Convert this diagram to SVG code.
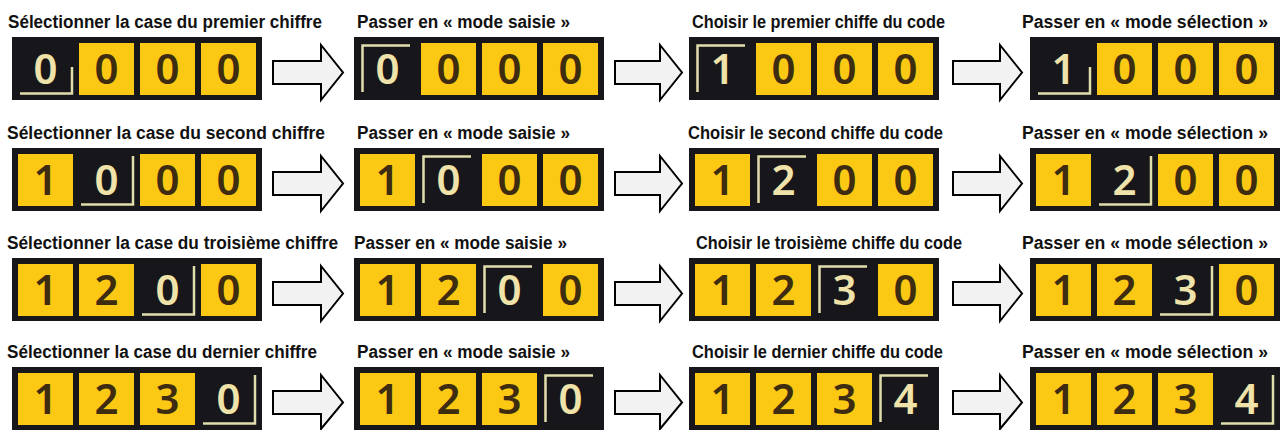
<svg xmlns="http://www.w3.org/2000/svg" width="1283" height="430" viewBox="0 0 1283 430">
<style>
.bg{fill:#ffffff}
.lbl{font-family:"Liberation Sans",Arial,sans-serif;font-weight:bold;font-size:18px;fill:#111111}
.pan{fill:#16161b}
.cell{fill:#fbc813}
.dg{font-family:"Noto Sans","DejaVu Sans",sans-serif;font-size:42px;font-weight:600;text-anchor:middle;fill:#3d2c10}
.ds{font-family:"Noto Sans","DejaVu Sans",sans-serif;font-size:42px;font-weight:600;text-anchor:middle;fill:#efe3aa}
.cur{fill:none;stroke:#e2deac;stroke-width:2.5}
.arr{fill:#f2f2f2;stroke:#000000;stroke-width:2;stroke-linejoin:miter}
</style>
<rect class="bg" x="0" y="0" width="1283" height="430"/>

<!-- Row 1 -->
<g id="r1c1">
<text class="lbl" x="8" y="28" textLength="314" lengthAdjust="spacingAndGlyphs">Sélectionner la case du premier chiffre</text>
<g transform="translate(12,37)">
<rect class="pan" width="250" height="63"/>
<rect class="cell" x="67" y="6" width="55" height="52"/><rect class="cell" x="128" y="6" width="55" height="52"/><rect class="cell" x="189" y="6" width="55" height="52"/>
<text class="ds" x="33.5" y="47">0</text><text class="dg" x="94.5" y="47">0</text><text class="dg" x="155.5" y="47">0</text><text class="dg" x="216.5" y="47">0</text>
<path class="cur" d="M8 56.5 H60 V30"/>
</g>
</g>
<g id="r1c2">
<text class="lbl" x="357" y="28" textLength="213" lengthAdjust="spacingAndGlyphs">Passer en « mode saisie »</text>
<g transform="translate(354,37)">
<rect class="pan" width="250" height="63"/>
<rect class="cell" x="67" y="6" width="55" height="52"/><rect class="cell" x="128" y="6" width="55" height="52"/><rect class="cell" x="189" y="6" width="55" height="52"/>
<text class="ds" x="33.5" y="47">0</text><text class="dg" x="94.5" y="47">0</text><text class="dg" x="155.5" y="47">0</text><text class="dg" x="216.5" y="47">0</text>
<path class="cur" d="M8.5 55 V8.5 H56"/>
</g>
</g>
<g id="r1c3">
<text class="lbl" x="692" y="28" textLength="253" lengthAdjust="spacingAndGlyphs">Choisir le premier chiffe du code</text>
<g transform="translate(689,37)">
<rect class="pan" width="250" height="63"/>
<rect class="cell" x="67" y="6" width="55" height="52"/><rect class="cell" x="128" y="6" width="55" height="52"/><rect class="cell" x="189" y="6" width="55" height="52"/>
<text class="ds" x="33.5" y="47">1</text><text class="dg" x="94.5" y="47">0</text><text class="dg" x="155.5" y="47">0</text><text class="dg" x="216.5" y="47">0</text>
<path class="cur" d="M8.5 55 V8.5 H56"/>
</g>
</g>
<g id="r1c4">
<text class="lbl" x="1022" y="28" textLength="246" lengthAdjust="spacingAndGlyphs">Passer en « mode sélection »</text>
<g transform="translate(1030,37)">
<rect class="pan" width="250" height="63"/>
<rect class="cell" x="67" y="6" width="55" height="52"/><rect class="cell" x="128" y="6" width="55" height="52"/><rect class="cell" x="189" y="6" width="55" height="52"/>
<text class="ds" x="33.5" y="47">1</text><text class="dg" x="94.5" y="47">0</text><text class="dg" x="155.5" y="47">0</text><text class="dg" x="216.5" y="47">0</text>
<path class="cur" d="M8 56.5 H60 V30"/>
</g>
</g>

<!-- Row 2 -->
<g id="r2c1">
<text class="lbl" x="7" y="139" textLength="318" lengthAdjust="spacingAndGlyphs">Sélectionner la case du second chiffre</text>
<g transform="translate(12,148)">
<rect class="pan" width="250" height="63"/>
<rect class="cell" x="6" y="6" width="55" height="52"/><rect class="cell" x="128" y="6" width="55" height="52"/><rect class="cell" x="189" y="6" width="55" height="52"/>
<text class="dg" x="33.5" y="47">1</text><text class="ds" x="94.5" y="47">0</text><text class="dg" x="155.5" y="47">0</text><text class="dg" x="216.5" y="47">0</text>
<path class="cur" d="M69 56.5 H121 V8"/>
</g>
</g>
<g id="r2c2">
<text class="lbl" x="357" y="139" textLength="213" lengthAdjust="spacingAndGlyphs">Passer en « mode saisie »</text>
<g transform="translate(354,148)">
<rect class="pan" width="250" height="63"/>
<rect class="cell" x="6" y="6" width="55" height="52"/><rect class="cell" x="128" y="6" width="55" height="52"/><rect class="cell" x="189" y="6" width="55" height="52"/>
<text class="dg" x="33.5" y="47">1</text><text class="ds" x="94.5" y="47">0</text><text class="dg" x="155.5" y="47">0</text><text class="dg" x="216.5" y="47">0</text>
<path class="cur" d="M69.5 55 V8.5 H117"/>
</g>
</g>
<g id="r2c3">
<text class="lbl" x="688" y="139" textLength="255" lengthAdjust="spacingAndGlyphs">Choisir le second chiffe du code</text>
<g transform="translate(689,148)">
<rect class="pan" width="250" height="63"/>
<rect class="cell" x="6" y="6" width="55" height="52"/><rect class="cell" x="128" y="6" width="55" height="52"/><rect class="cell" x="189" y="6" width="55" height="52"/>
<text class="dg" x="33.5" y="47">1</text><text class="ds" x="94.5" y="47">2</text><text class="dg" x="155.5" y="47">0</text><text class="dg" x="216.5" y="47">0</text>
<path class="cur" d="M69.5 55 V8.5 H117"/>
</g>
</g>
<g id="r2c4">
<text class="lbl" x="1022" y="139" textLength="246" lengthAdjust="spacingAndGlyphs">Passer en « mode sélection »</text>
<g transform="translate(1030,148)">
<rect class="pan" width="250" height="63"/>
<rect class="cell" x="6" y="6" width="55" height="52"/><rect class="cell" x="128" y="6" width="55" height="52"/><rect class="cell" x="189" y="6" width="55" height="52"/>
<text class="dg" x="33.5" y="47">1</text><text class="ds" x="94.5" y="47">2</text><text class="dg" x="155.5" y="47">0</text><text class="dg" x="216.5" y="47">0</text>
<path class="cur" d="M69 56.5 H121 V8"/>
</g>
</g>

<!-- Row 3 -->
<g id="r3c1">
<text class="lbl" x="7" y="249" textLength="331" lengthAdjust="spacingAndGlyphs">Sélectionner la case du troisième chiffre</text>
<g transform="translate(12,258)">
<rect class="pan" width="250" height="63"/>
<rect class="cell" x="6" y="6" width="55" height="52"/><rect class="cell" x="67" y="6" width="55" height="52"/><rect class="cell" x="189" y="6" width="55" height="52"/>
<text class="dg" x="33.5" y="47">1</text><text class="dg" x="94.5" y="47">2</text><text class="ds" x="155.5" y="47">0</text><text class="dg" x="216.5" y="47">0</text>
<path class="cur" d="M130 56.5 H182 V8"/>
</g>
</g>
<g id="r3c2">
<text class="lbl" x="354" y="249" textLength="213" lengthAdjust="spacingAndGlyphs">Passer en « mode saisie »</text>
<g transform="translate(354,258)">
<rect class="pan" width="250" height="63"/>
<rect class="cell" x="6" y="6" width="55" height="52"/><rect class="cell" x="67" y="6" width="55" height="52"/><rect class="cell" x="189" y="6" width="55" height="52"/>
<text class="dg" x="33.5" y="47">1</text><text class="dg" x="94.5" y="47">2</text><text class="ds" x="155.5" y="47">0</text><text class="dg" x="216.5" y="47">0</text>
<path class="cur" d="M130.5 55 V8.5 H178"/>
</g>
</g>
<g id="r3c3">
<text class="lbl" x="696" y="249" textLength="266" lengthAdjust="spacingAndGlyphs">Choisir le troisième chiffe du code</text>
<g transform="translate(689,258)">
<rect class="pan" width="250" height="63"/>
<rect class="cell" x="6" y="6" width="55" height="52"/><rect class="cell" x="67" y="6" width="55" height="52"/><rect class="cell" x="189" y="6" width="55" height="52"/>
<text class="dg" x="33.5" y="47">1</text><text class="dg" x="94.5" y="47">2</text><text class="ds" x="155.5" y="47">3</text><text class="dg" x="216.5" y="47">0</text>
<path class="cur" d="M130.5 55 V8.5 H178"/>
</g>
</g>
<g id="r3c4">
<text class="lbl" x="1022" y="249" textLength="246" lengthAdjust="spacingAndGlyphs">Passer en « mode sélection »</text>
<g transform="translate(1030,258)">
<rect class="pan" width="250" height="63"/>
<rect class="cell" x="6" y="6" width="55" height="52"/><rect class="cell" x="67" y="6" width="55" height="52"/><rect class="cell" x="189" y="6" width="55" height="52"/>
<text class="dg" x="33.5" y="47">1</text><text class="dg" x="94.5" y="47">2</text><text class="ds" x="155.5" y="47">3</text><text class="dg" x="216.5" y="47">0</text>
<path class="cur" d="M130 56.5 H182 V8"/>
</g>
</g>

<!-- Row 4 -->
<g id="r4c1">
<text class="lbl" x="7" y="358" textLength="310" lengthAdjust="spacingAndGlyphs">Sélectionner la case du dernier chiffre</text>
<g transform="translate(12,367)">
<rect class="pan" width="250" height="63"/>
<rect class="cell" x="6" y="6" width="55" height="52"/><rect class="cell" x="67" y="6" width="55" height="52"/><rect class="cell" x="128" y="6" width="55" height="52"/>
<text class="dg" x="33.5" y="47">1</text><text class="dg" x="94.5" y="47">2</text><text class="dg" x="155.5" y="47">3</text><text class="ds" x="216.5" y="47">0</text>
<path class="cur" d="M191 56.5 H243 V8"/>
</g>
</g>
<g id="r4c2">
<text class="lbl" x="357" y="358" textLength="213" lengthAdjust="spacingAndGlyphs">Passer en « mode saisie »</text>
<g transform="translate(354,367)">
<rect class="pan" width="250" height="63"/>
<rect class="cell" x="6" y="6" width="55" height="52"/><rect class="cell" x="67" y="6" width="55" height="52"/><rect class="cell" x="128" y="6" width="55" height="52"/>
<text class="dg" x="33.5" y="47">1</text><text class="dg" x="94.5" y="47">2</text><text class="dg" x="155.5" y="47">3</text><text class="ds" x="216.5" y="47">0</text>
<path class="cur" d="M191.5 55 V8.5 H239"/>
</g>
</g>
<g id="r4c3">
<text class="lbl" x="692" y="358" textLength="251" lengthAdjust="spacingAndGlyphs">Choisir le dernier chiffe du code</text>
<g transform="translate(689,367)">
<rect class="pan" width="250" height="63"/>
<rect class="cell" x="6" y="6" width="55" height="52"/><rect class="cell" x="67" y="6" width="55" height="52"/><rect class="cell" x="128" y="6" width="55" height="52"/>
<text class="dg" x="33.5" y="47">1</text><text class="dg" x="94.5" y="47">2</text><text class="dg" x="155.5" y="47">3</text><text class="ds" x="216.5" y="47">4</text>
<path class="cur" d="M191.5 55 V8.5 H239"/>
</g>
</g>
<g id="r4c4">
<text class="lbl" x="1022" y="358" textLength="246" lengthAdjust="spacingAndGlyphs">Passer en « mode sélection »</text>
<g transform="translate(1030,367)">
<rect class="pan" width="250" height="63"/>
<rect class="cell" x="6" y="6" width="55" height="52"/><rect class="cell" x="67" y="6" width="55" height="52"/><rect class="cell" x="128" y="6" width="55" height="52"/>
<text class="dg" x="33.5" y="47">1</text><text class="dg" x="94.5" y="47">2</text><text class="dg" x="155.5" y="47">3</text><text class="ds" x="216.5" y="47">4</text>
<path class="cur" d="M191 56.5 H243 V8"/>
</g>
</g>

<g id="connectors">
<path class="arr" d="M273 61 H321 V45 L343 72.5 L321 100 V84 H273 Z"/>
<path class="arr" d="M615 61 H660 V45 L682 72.5 L660 100 V84 H615 Z"/>
<path class="arr" d="M953 61 H1000 V45 L1022 72.5 L1000 100 V84 H953 Z"/>
<path class="arr" d="M273 172 H321 V156 L343 183.5 L321 211 V195 H273 Z"/>
<path class="arr" d="M615 172 H660 V156 L682 183.5 L660 211 V195 H615 Z"/>
<path class="arr" d="M953 172 H1000 V156 L1022 183.5 L1000 211 V195 H953 Z"/>
<path class="arr" d="M273 282 H321 V266 L343 293.5 L321 321 V305 H273 Z"/>
<path class="arr" d="M615 282 H660 V266 L682 293.5 L660 321 V305 H615 Z"/>
<path class="arr" d="M953 282 H1000 V266 L1022 293.5 L1000 321 V305 H953 Z"/>
<path class="arr" d="M273 391 H321 V375 L343 402.5 L321 429 V414 H273 Z"/>
<path class="arr" d="M615 391 H660 V375 L682 402.5 L660 429 V414 H615 Z"/>
<path class="arr" d="M953 391 H1000 V375 L1022 402.5 L1000 429 V414 H953 Z"/>
</g>
</svg>
